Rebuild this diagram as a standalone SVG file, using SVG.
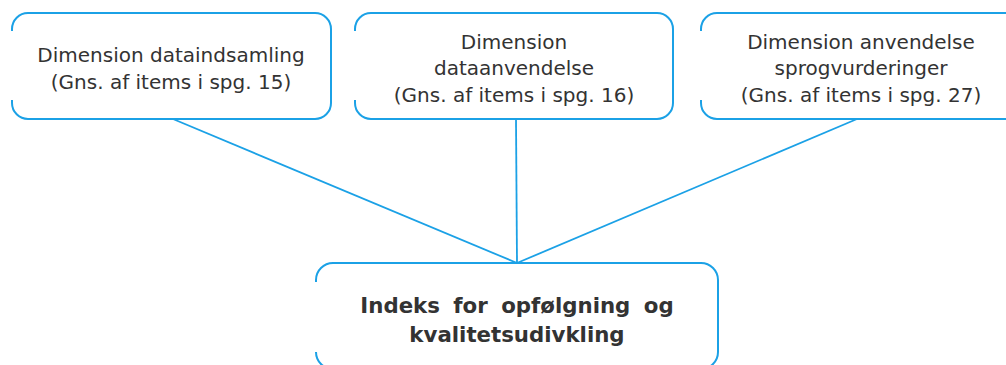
<svg xmlns="http://www.w3.org/2000/svg" width="1006" height="365" viewBox="0 0 1006 365">
<style>
.edge{fill:none;stroke:#1ba1e6;stroke-width:2;stroke-linecap:butt}
.t{font-family:"DejaVu Sans",Verdana,sans-serif;font-size:20px;fill:#333;text-anchor:middle}
.b{font-family:"DejaVu Sans",Verdana,sans-serif;font-size:21.3px;font-weight:bold;fill:#333;text-anchor:middle}
.c{fill:none;stroke:#1ba1e6;stroke-width:1.8}
</style>
<rect width="1006" height="365" fill="#fff"/>
<g id="connectors">
<line class="c" x1="173" y1="119" x2="517" y2="263"/>
<line class="c" x1="516" y1="119" x2="517" y2="263"/>
<line class="c" x1="857" y1="119" x2="517" y2="263"/>
</g>
<g id="node1">
<path class="edge" d="M12 31 V29 A16 16 0 0 1 28 13 H315 A16 16 0 0 1 331 29 V103 A16 16 0 0 1 315 119 H28 A16 16 0 0 1 12 103 V100"/>
<text class="t" x="171" y="62">Dimension dataindsamling</text>
<text class="t" x="171" y="89">(Gns. af items i spg. 15)</text>
</g>
<g id="node2">
<path class="edge" d="M355 31 V29 A16 16 0 0 1 371 13 H657 A16 16 0 0 1 673 29 V103 A16 16 0 0 1 657 119 H371 A16 16 0 0 1 355 103 V100"/>
<text class="t" x="514" y="49">Dimension</text>
<text class="t" x="514" y="75">dataanvendelse</text>
<text class="t" x="514" y="102">(Gns. af items i spg. 16)</text>
</g>
<g id="node3">
<path class="edge" d="M701 31 V29 A16 16 0 0 1 717 13 H1008 A16 16 0 0 1 1024 29 V103 A16 16 0 0 1 1008 119 H717 A16 16 0 0 1 701 103 V100"/>
<text class="t" x="861" y="49">Dimension anvendelse</text>
<text class="t" x="861" y="75">sprogvurderinger</text>
<text class="t" x="861" y="102">(Gns. af items i spg. 27)</text>
</g>
<g id="node4">
<path class="edge" d="M316 282 V280 A17 17 0 0 1 333 263 H701 A17 17 0 0 1 718 280 V352 A17 17 0 0 1 701 369 H333 A17 17 0 0 1 316 352 V353"/>
<text class="b" x="517" y="313" word-spacing="6">Indeks for opfølgning og</text>
<text class="b" x="517" y="342">kvalitetsudivkling</text>
</g>
</svg>
